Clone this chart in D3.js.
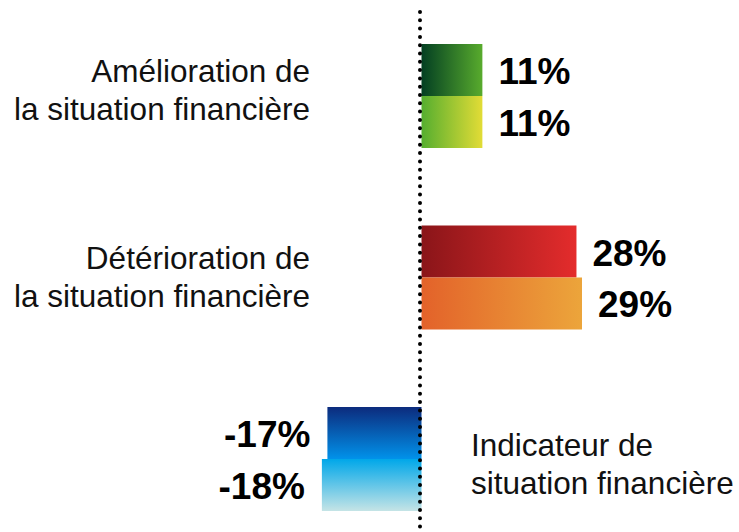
<!DOCTYPE html>
<html>
<head>
<meta charset="utf-8">
<script src="https://cdn.jsdelivr.net/npm/d3@7"></script>
<style>
  body { margin: 0; background: #fff; }
  svg { display: block; font-family: "Liberation Sans", Arial, sans-serif; }
</style>
</head>
<body>
<div id="chart"></div>
<script>
// categories (each has two bars)
const categories = ["amelioration", "deterioration", "indicateur"];
const labelLines = [
  ["Amélioration de", "la situation financière"],
  ["Détérioration de", "la situation financière"],
  ["Indicateur de", "situation financière"]
];
const series = ["a", "b"];
const values = [
  [11, 11],
  [28, 29],
  [-17, -18]
];
// gradient stops per bar [from, to]; dir h = left->right, v = top->bottom
const gradients = [
  [["#033f22", "#58ab2d"], ["#55ae2f", "#e2dc36"]],
  [["#8a1519", "#e42c2c"], ["#e3622a", "#eca53b"]],
  [["#0c2b7d", "#0192ea"], ["#00a7e9", "#c5e4e6"]]
];
const gradDir = ["h", "h", "v"];

const width = 739, height = 532;

const svg = d3.select("#chart").append("svg")
  .attr("width", width)
  .attr("height", height);

const x = d3.scaleLinear().domain([0, 29]).range([421.5, 582]);

const y = d3.scaleBand().domain(categories).range([44, 511]).paddingInner(0.427).paddingOuter(0);
const ySub = d3.scaleBand().domain(series).range([0, y.bandwidth()]);
// label baselines sit on their own spacing
const yLabel = d3.scalePoint().domain(categories).range([82, 456]);

const defs = svg.append("defs");
categories.forEach((c, i) => {
  series.forEach((s, j) => {
    const g = defs.append("linearGradient")
      .attr("id", `g-${i}-${j}`)
      .attr("x1", 0).attr("y1", 0)
      .attr("x2", gradDir[i] === "h" ? 1 : 0)
      .attr("y2", gradDir[i] === "h" ? 0 : 1);
    g.append("stop").attr("offset", "0%").attr("stop-color", gradients[i][j][0]);
    g.append("stop").attr("offset", "100%").attr("stop-color", gradients[i][j][1]);
  });
});

const bars = [];
categories.forEach((c, i) => {
  series.forEach((s, j) => bars.push({ c, i, s, j, v: values[i][j] }));
});

svg.append("g")
  .selectAll("rect")
  .data(bars)
  .join("rect")
  .attr("x", (d) => x(Math.min(0, d.v)))
  .attr("width", (d) => Math.abs(x(d.v) - x(0)))
  .attr("y", (d) => y(d.c) + ySub(d.s))
  .attr("height", ySub.bandwidth())
  .attr("fill", (d) => `url(#g-${d.i}-${d.j})`);

// value labels
svg.append("g")
  .selectAll("text")
  .data(bars)
  .join("text")
  .attr("x", (d) => (d.v >= 0 ? x(d.v) + 16 : x(d.v) - 17))
  .attr("y", (d) => y(d.c) + ySub(d.s) + ySub.bandwidth() / 2 + 14)
  .attr("text-anchor", (d) => (d.v >= 0 ? "start" : "end"))
  .attr("font-size", 37)
  .attr("font-weight", "bold")
  .attr("fill", "#000")
  .text((d) => `${d.v}%`);

// category labels: left of axis for positives, right for negatives
svg.append("g")
  .selectAll("text")
  .data(categories)
  .join("text")
  .attr("x", (d, i) => (values[i][0] >= 0 ? 310 : 471))
  .attr("y", (d) => yLabel(d))
  .attr("text-anchor", (d, i) => (values[i][0] >= 0 ? "end" : "start"))
  .attr("font-size", 31.5)
  .attr("fill", "#111")
  .selectAll("tspan")
  .data((d, i) => labelLines[i].map((t) => ({ t, i })))
  .join("tspan")
  .attr("x", (d) => (values[d.i][0] >= 0 ? 310 : 471))
  .attr("dy", (d, k) => (k === 0 ? 0 : 38))
  .text((d) => d.t);

// dotted zero line
svg.append("line")
  .attr("x1", x(0) - 1.5).attr("x2", x(0) - 1.5)
  .attr("y1", 12).attr("y2", 528)
  .attr("stroke", "#000")
  .attr("stroke-width", 4)
  .attr("stroke-linecap", "round")
  .attr("stroke-dasharray", "0 8.3");
</script>
</body>
</html>
